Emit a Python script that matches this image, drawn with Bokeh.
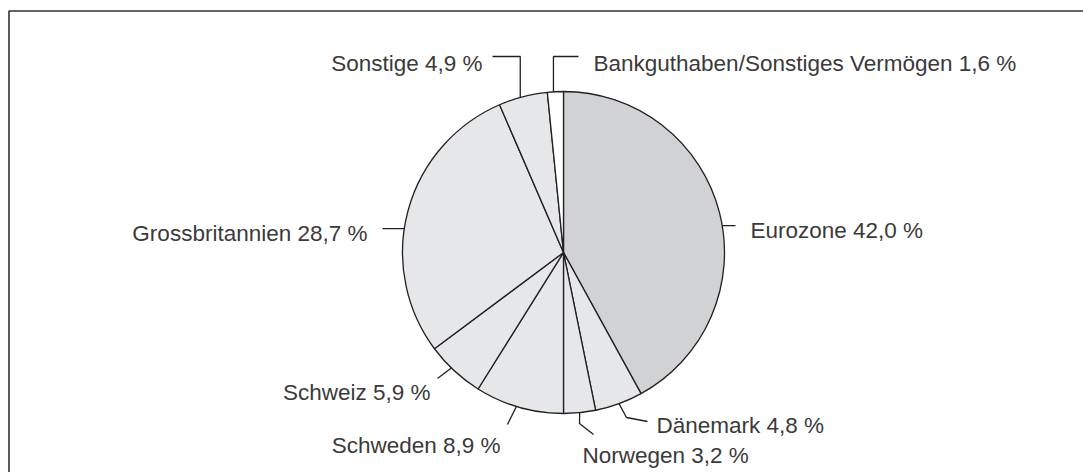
import math
from bokeh.plotting import figure
from bokeh.models import Range1d, ColumnDataSource
from bokeh.core.properties import value
from bokeh.embed import file_html
from bokeh.resources import INLINE

# ---------------- data ----------------
categories = ["Eurozone", "Dänemark", "Norwegen", "Schweden", "Schweiz",
              "Grossbritannien", "Sonstige", "Bankguthaben/Sonstiges Vermögen"]
shares = [42.0, 4.8, 3.2, 8.9, 5.9, 28.7, 4.9, 1.6]

# ---------------- layout / style ----------------
W, H = 1083, 472


def X(px):
    return px


def Y(py):
    return H - py


CX, CY, R = 563, 252, 161  # pie centre / radius (page pixels)
fills = ["#d1d2d4", "#e6e7e8", "#e6e7e8", "#e6e7e8", "#e6e7e8", "#e6e7e8",
         "#e6e7e8", "#ffffff"]
edge = "#231f20"
txt_col = "#3a3a3a"
FONT = "Liberation Sans"
FSIZE = "22.5px"

anchor_shift = [4.8, 0.0, 0.0, 1.0, 1.5, -6.4, -1.0, -0.7]
leader_pts = [
    [(735, None)],
    [(626, 417), (647, 421)],
    [(579, 423), (593, 434)],
    [(507, 424)],
    [(437, 378)],
    [(382, None)],
    [("ax", 56), (492, 56)],
    [("ax", 56), (578, 56)],
]
text_pos = [(750, 230, "left"), (656, 425, "left"), (582, 455, "left"),
            (500, 445, "right"), (430, 392, "right"), (367, 233, "right"),
            (482, 63, "right"), (593, 63, "left")]

p = figure(width=W, height=H, x_range=Range1d(0, W), y_range=Range1d(0, H),
           x_axis_type=None, y_axis_type=None, toolbar_location=None,
           output_backend="svg", min_border=0, outline_line_color=None)
p.grid.visible = False
p.background_fill_color = "white"
p.border_fill_color = "white"

# frame (top and left edges visible in the reference)
p.line(x=[X(8.5), X(8.5), W + 5], y=[-5, Y(10.5), Y(10.5)],
       line_color="#333333", line_width=1.6)

# wedges
total = sum(shares)
starts, ends, mids = [], [], []
cum = 0.0
for s in shares:
    a0 = cum / total * 2 * math.pi
    cum += s
    a1 = cum / total * 2 * math.pi
    starts.append(math.pi / 2 - a0)
    ends.append(math.pi / 2 - a1)
    mids.append((a0 + a1) / 2)

src = ColumnDataSource(dict(start=starts, end=ends, fill=fills))
p.wedge(x=X(CX), y=Y(CY), radius=R, start_angle="start", end_angle="end",
        direction="clock", fill_color="fill", line_color=edge, line_width=1.3,
        source=src)


def fmt(v):
    return ("%.1f" % v).replace(".", ",") + " %"


for i, (cat, v) in enumerate(zip(categories, shares)):
    ang = mids[i] + math.radians(anchor_shift[i])
    axp = CX + R * math.sin(ang)
    ayp = CY - R * math.cos(ang)
    xs, ys = [axp], [ayp]
    for (px, py) in leader_pts[i]:
        px = axp if px == "ax" else px
        py = ayp if py is None else py
        xs.append(px)
        ys.append(py)
    p.line(x=[X(a) for a in xs], y=[Y(b) for b in ys], line_color=edge,
           line_width=1.3)
    tx, ty, al = text_pos[i]
    p.text(x=[X(tx)], y=[Y(ty)], text=[cat + " " + fmt(v)],
           text_align=al, text_baseline="alphabetic",
           text_font=value(FONT), text_font_size=value(FSIZE),
           text_color=txt_col)

open("out.html", "w").write(file_html(p, INLINE))
